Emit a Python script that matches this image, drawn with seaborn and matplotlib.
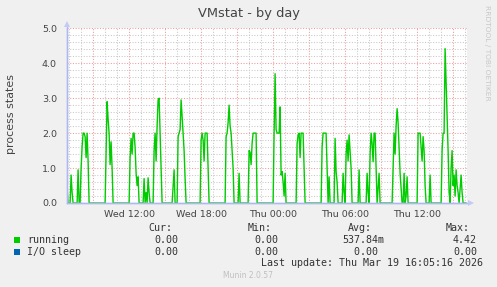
import matplotlib
matplotlib.use("Agg")
import matplotlib.pyplot as plt
import matplotlib.dates as mdates
from matplotlib.ticker import MultipleLocator, FuncFormatter
from matplotlib.patches import Rectangle
from matplotlib.lines import Line2D
import seaborn as sns
import pandas as pd
import numpy as np

# ---------------- data ----------------
start_time = "2026-03-18 06:50"          # first 5-minute sample
sample_idx = [
    -1, 0, 1,
    3, 4, 5, 6,
    10, 11, 12, 13, 14, 15, 16, 17, 18, 19, 20, 21, 22,
    38, 39, 40, 41, 42, 43, 44, 45, 46,
    62, 63, 64, 65, 66, 67, 68, 69, 70, 71, 72,
    76, 77, 78, 79, 80, 81, 82, 83,
    86, 87, 88, 89, 90, 91, 92, 93, 94, 95,
    105, 106, 107, 108, 110, 111, 112, 113, 114, 115, 116, 117, 118, 119,
    133, 134, 135, 136, 137, 138, 139, 140, 141, 142,
    158, 159, 160, 161, 162, 163, 164, 165, 166, 167,
    171, 172, 173,
    181, 182, 183, 184, 185, 186, 187, 188, 189, 190,
    206, 207, 208, 209, 210, 211, 212, 213, 214, 215, 216, 217, 218, 219,
    229, 230, 231, 232, 233, 234, 235, 236, 237, 238,
    254, 255, 256, 257, 258, 259, 260, 261, 262, 263,
    267, 268, 269, 270, 271,
    275, 276, 277, 278, 279, 280, 281, 282, 283, 284, 285,
    291, 292, 293,
    299, 300, 301, 302, 303, 304, 305, 306, 307, 308, 309, 310, 312, 313,
    325, 326, 327, 328, 329, 330, 331, 332, 333, 334, 335,
    336, 337, 338, 339, 340, 341,
    350, 351, 352, 353, 354, 355, 356, 357, 358, 359,
    362, 363, 364,
    374, 375, 376, 377, 378, 379, 380, 381, 382, 383, 384, 385, 386, 387,
    388, 389, 390, 391, 392, 394, 395, 396,
    399,
]
running = [
    0, 0.45, 0,
    0, 0.8, 0.3, 0,
    0, 0.95, 0, 0, 1.0, 1.6, 2.0, 2.0, 1.9, 1.3, 2.0, 1.2, 0,
    0, 1.5, 2.9, 2.4, 2.0, 1.1, 1.75, 1.0, 0,
    0, 1.3, 1.85, 1.4, 2.0, 2.0, 1.6, 0.85, 0.5, 0.75, 0,
    0, 0.7, 0, 0.3, 0, 0.72, 0.3, 0,
    0, 1.5, 2.0, 1.2, 2.2, 2.95, 3.0, 2.0, 1.0, 0,
    0, 0.5, 0.95, 0, 0, 1.9, 2.0, 2.1, 2.95, 2.5, 2.0, 1.5, 0.7, 0,
    0, 1.8, 2.0, 1.8, 1.2, 2.0, 2.0, 2.0, 1.0, 0,
    0, 1.9, 2.0, 2.3, 2.8, 2.2, 2.0, 1.5, 1.0, 0,
    0, 0.85, 0,
    0, 1.5, 1.45, 1.1, 1.7, 2.0, 2.0, 2.0, 2.0, 0,
    0, 2.0, 3.7, 2.1, 2.0, 2.0, 2.0, 2.75, 0.8, 0.9, 0.6, 0.2, 0.85, 0,
    0, 1.7, 1.95, 2.0, 1.3, 2.0, 2.0, 2.0, 1.0, 0,
    0, 1.6, 2.0, 2.0, 2.0, 2.0, 1.0, 0, 0.75, 0,
    0, 1.85, 0.9, 0.6, 0,
    0, 0.85, 0.3, 0, 1.4, 1.8, 1.2, 1.95, 1.5, 1.0, 0,
    0, 0.95, 0,
    0, 0.85, 0.3, 0, 1.4, 2.0, 1.7, 1.18, 2.0, 2.0, 1.0, 0, 0.85, 0,
    0, 1.0, 2.0, 1.4, 2.2, 2.7, 2.3, 1.6, 0.85, 0.4, 0,
    0, 0.85, 0, 0.2, 0.75, 0,
    0, 2.0, 2.0, 2.0, 1.6, 1.2, 1.9, 1.5, 0.5, 0,
    0, 0.8, 0,
    0, 1.5, 2.0, 2.0, 4.42, 3.5, 2.5, 1.5, 0.3, 0, 1.0, 1.5, 0.5, 0.8,
    0.2, 0.95, 0.5, 0.3, 0, 0.8, 0.3, 0,
    0,
]
view_start = "2026-03-18 06:48"
view_end = "2026-03-19 16:08"

legend_names = ["running", "I/O sleep"]
legend_colors = ["#00cc00", "#0066b3"]
col_headers = ["Cur:", "Min:", "Avg:", "Max:"]
cur_vals = ["0.00", "0.00"]
min_vals = ["0.00", "0.00"]
avg_vals = ["537.84m", "0.00 "]
max_vals = ["4.42", "0.00"]
title = "VMstat - by day"
ylabel = "process states"
last_update = "Last update: Thu Mar 19 16:05:16 2026"
footer = "Munin 2.0.57"
watermark = "RRDTOOL / TOBI OETIKER"

# ---------------- figure ----------------
sns.set_style("white")
plt.rcParams["font.family"] = ["DejaVu Sans"]

W, H = 497, 287
def fx(x): return x / W
def fy(y): return 1 - y / H

fig = plt.figure(figsize=(W / 100, H / 100), dpi=100, facecolor="#f0f0f0")
ax = fig.add_axes([fx(66.7), fy(203), (466.7 - 66.7) / W, (203 - 28.3) / H])
ax.set_facecolor("white")

df = pd.DataFrame({
    "time": pd.Timestamp(start_time) + pd.to_timedelta(np.array(sample_idx) * 5, unit="min"),
    "running": running,
})
sns.lineplot(data=df, x="time", y="running", ax=ax, color=legend_colors[0],
             linewidth=1.0, zorder=3)

ax.set_xlim(pd.Timestamp(view_start), pd.Timestamp(view_end))
ax.set_ylim(0, 5.0)
ax.set_xlabel("")
ax.set_ylabel("")

ax.xaxis.set_major_locator(mdates.HourLocator(byhour=range(0, 24, 3)))
ax.xaxis.set_minor_locator(mdates.HourLocator())
def xfmt(v, pos):
    d = mdates.num2date(v)
    return d.strftime("%a %H:%M") if d.hour % 6 == 0 else ""
ax.xaxis.set_major_formatter(FuncFormatter(xfmt))
ax.yaxis.set_major_locator(MultipleLocator(1.0))
ax.yaxis.set_minor_locator(MultipleLocator(0.2))
ax.yaxis.set_major_formatter(FuncFormatter(lambda v, p: f"{v:.1f}"))

ax.set_axisbelow(True)
ax.grid(which="major", color="#f09a9a", linestyle=(0, (1, 1.6)), linewidth=0.75)
ax.grid(which="minor", color="#c8c8c8", linestyle=(0, (1, 1.6)), linewidth=0.75)
ax.tick_params(axis="both", which="major", length=2, width=0.8, color="#f08080",
               labelsize=6.8, labelcolor="#444444", pad=3)
ax.tick_params(axis="both", which="minor", length=1.5, width=0.6, color="#bbbbbb")
ax.tick_params(axis="y", which="major", pad=5)

for s in ["top", "right"]:
    ax.spines[s].set_visible(False)
axis_col = "#b0b8f0"
for s in ["left", "bottom"]:
    ax.spines[s].set_color(axis_col)
    ax.spines[s].set_linewidth(1.0)
    ax.spines[s].set_zorder(4)

# axis extensions and arrows
fig.add_artist(Line2D([fx(66.7), fx(469)], [fy(203), fy(203)], color=axis_col, lw=1.0))
fig.add_artist(Line2D([fx(66.7), fx(66.7)], [fy(203), fy(24)], color=axis_col, lw=1.0))
fig.add_artist(Line2D([fx(471)], [fy(203)], marker=">", markersize=5, color="#c4caf6",
                      markeredgewidth=0))
fig.add_artist(Line2D([fx(66.7)], [fy(24)], marker="^", markersize=5, color="#c4caf6",
                      markeredgewidth=0))

# title and y label
fig.text(fx(249), fy(14), title, ha="center", va="center", fontsize=9.4, color="#444444")
fig.text(fx(11.5), fy(114.5), ylabel, rotation=90, ha="center", va="center",
         fontsize=7.9, color="#444444")

# watermark
fig.text(fx(487), fy(53), watermark, rotation=270, ha="center", va="center",
         fontsize=5.4, color="#c8c8c8")

# legend
mono = "DejaVu Sans Mono"
lfs = 7.2
tc = "#333333"
for hdr, xr in zip(col_headers, [172, 272, 372, 470]):
    fig.text(fx(xr), fy(228), hdr, ha="right", va="center", family=mono, fontsize=lfs, color=tc)
rows_y = [240, 252]
for i, (name, col) in enumerate(zip(legend_names, legend_colors)):
    y = rows_y[i]
    fig.add_artist(Rectangle((fx(14), fy(y + 3)), 6 / W, 6 / H, transform=fig.transFigure,
                             facecolor=col, edgecolor="none"))
    fig.text(fx(27), fy(y), name, ha="left", va="center", family=mono, fontsize=lfs, color=tc)
    fig.text(fx(178), fy(y), cur_vals[i], ha="right", va="center", family=mono, fontsize=lfs, color=tc)
    fig.text(fx(278), fy(y), min_vals[i], ha="right", va="center", family=mono, fontsize=lfs, color=tc)
    fig.text(fx(384), fy(y), avg_vals[i], ha="right", va="center", family=mono, fontsize=lfs, color=tc)
    fig.text(fx(477), fy(y), max_vals[i], ha="right", va="center", family=mono, fontsize=lfs, color=tc)

fig.text(fx(483), fy(263.5), last_update, ha="right", va="center", family=mono,
         fontsize=lfs, color=tc)
fig.text(fx(248), fy(276), footer, ha="center", va="center", fontsize=5.5, color="#c0c0c0")

fig.savefig("out.png", dpi=100, facecolor=fig.get_facecolor())
